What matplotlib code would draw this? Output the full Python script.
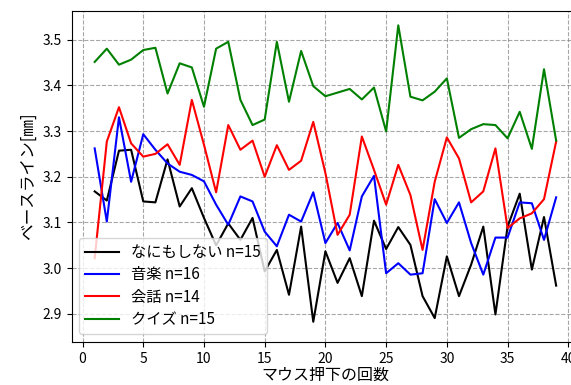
import matplotlib
matplotlib.use('Agg')
import matplotlib.pyplot as plt
import numpy as np

plt.rcParams['font.family'] = ['Noto Sans CJK JP', 'DejaVu Sans']

# press count 1..39
presses = list(range(1, 40))

nothing = [3.168, 3.148, 3.257, 3.259, 3.146, 3.144, 3.238, 3.135, 3.175, 3.11,
           3.05, 3.098, 3.062, 3.110, 2.993, 3.040, 2.942, 3.091, 2.883, 3.037,
           2.968, 3.022, 2.939, 3.104, 3.042, 3.090, 3.051, 2.939, 2.891, 3.026,
           2.939, 3.008, 3.091, 2.899, 3.091, 3.163, 2.997, 3.112, 2.962]
music = [3.262, 3.102, 3.330, 3.189, 3.293, 3.259, 3.229, 3.211, 3.204, 3.190,
         3.139, 3.095, 3.157, 3.146, 3.080, 3.048, 3.117, 3.102, 3.166, 3.055,
         3.099, 3.039, 3.157, 3.202, 2.989, 3.011, 2.986, 2.989, 3.151, 3.099,
         3.144, 3.055, 2.986, 3.067, 3.067, 3.144, 3.142, 3.062, 3.155]
talk = [3.022, 3.277, 3.352, 3.273, 3.244, 3.250, 3.271, 3.226, 3.368, 3.27,
        3.166, 3.313, 3.259, 3.279, 3.200, 3.269, 3.215, 3.235, 3.320, 3.208,
        3.073, 3.117, 3.288, 3.215, 3.139, 3.226, 3.160, 3.040, 3.189, 3.286,
        3.240, 3.144, 3.168, 3.262, 3.088, 3.109, 3.120, 3.151, 3.277]
quiz = [3.451, 3.480, 3.445, 3.456, 3.477, 3.482, 3.382, 3.448, 3.439, 3.353,
        3.480, 3.495, 3.368, 3.313, 3.325, 3.495, 3.364, 3.475, 3.398, 3.376,
        3.384, 3.392, 3.369, 3.395, 3.299, 3.531, 3.375, 3.367, 3.386, 3.415,
        3.285, 3.304, 3.315, 3.313, 3.284, 3.342, 3.261, 3.435, 3.279]

labels = ['なにもしない n=15', '音楽 n=16', '会話 n=14', 'クイズ n=15']
colors = ['k', 'b', 'r', 'g']

fig = plt.figure(figsize=(5.71, 3.85), dpi=100)
ax = fig.add_axes([0.1254, 0.112, 0.889, 0.859])

for ys, lab, c in zip([nothing, music, talk, quiz], labels, colors):
    ax.plot(presses, ys, color=c, label=lab, linewidth=1.5)

ax.set_xlim(-0.9, 40.9)
ax.set_ylim(2.839, 3.562)
ax.set_xticks(np.arange(0, 41, 5))
ax.set_yticks([2.9, 3.0, 3.1, 3.2, 3.3, 3.4, 3.5])
ax.grid(True, linestyle='--', color='gray', alpha=0.7)
ax.set_xlabel('マウス押下の回数', fontsize=11.5, labelpad=1)
ax.set_ylabel('ベースライン[㎜]', fontsize=12)
ax.legend(loc='lower left', fontsize=11, handlelength=2.2,
          borderaxespad=0.5, labelspacing=0.35)

fig.savefig('out.png', dpi=100)
